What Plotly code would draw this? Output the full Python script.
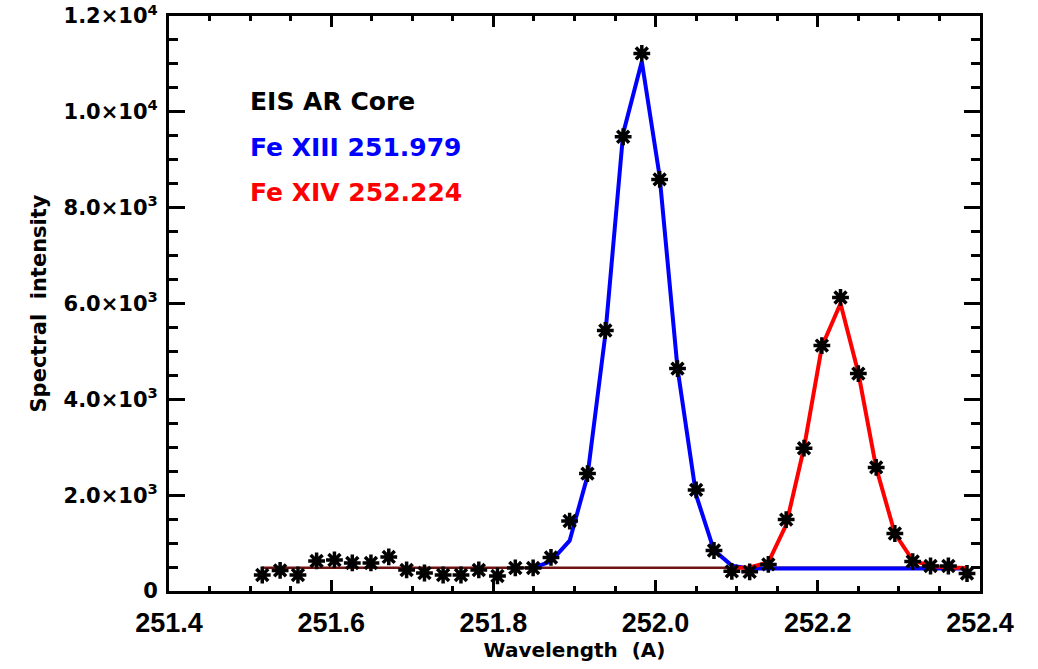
import plotly.graph_objects as go

# Observed EIS spectrum (wavelength in Angstrom, spectral intensity)
wavelength = [
    251.515, 251.537, 251.559, 251.582, 251.604, 251.626, 251.649, 251.671,
    251.693, 251.715, 251.738, 251.760, 251.782, 251.805, 251.827, 251.849,
    251.871, 251.894, 251.916, 251.938, 251.960, 251.983, 252.005, 252.027,
    252.050, 252.072, 252.094, 252.116, 252.139, 252.161, 252.183, 252.205,
    252.228, 252.250, 252.272, 252.295, 252.317, 252.339, 252.361, 252.384,
]
intensity = [
    334, 430, 334, 627, 648, 585, 585, 711,
    439, 376, 334, 334, 439, 314, 481, 481,
    700, 1460, 2450, 5436, 9480, 11220, 8590, 4641,
    2110, 845, 410, 400, 555, 1490, 2980, 5122,
    6125, 4537, 2580, 1200, 615, 522, 522, 365,
]

# Fe XIII 251.979 fit (evaluated on the spectrum wavelengths from index 15 on)
fe13_wavelength = wavelength[15:]
fe13_fit = [
    485, 620, 1050, 2400, 5350, 9550, 11050, 8650,
    4650, 2000, 850, 530, 470, 470, 470, 470,
    470, 470, 470, 470, 470, 470, 470, 470, 470,
]

# Fe XIV 252.224 fit (from index 26 on)
fe14_wavelength = wavelength[26:]
fe14_fit = [
    480, 490, 600, 1380, 2990, 5100, 6000, 4550,
    2570, 1200, 640, 520, 490, 480,
]

# Flat background level under both lines
background_wavelength = [wavelength[0], wavelength[-1]]
background_level = [485, 485]

x_ticks = [251.4, 251.6, 251.8, 252.0, 252.2, 252.4]
x_ticktext = ["251.4", "251.6", "251.8", "252.0", "252.2", "252.4"]
y_ticks = [0, 2000, 4000, 6000, 8000, 10000, 12000]
y_ticktext = [
    "0",
    "2.0×10<sup>3</sup>",
    "4.0×10<sup>3</sup>",
    "6.0×10<sup>3</sup>",
    "8.0×10<sup>3</sup>",
    "1.0×10<sup>4</sup>",
    "1.2×10<sup>4</sup>",
]

label_lines = ["EIS AR Core", "Fe XIII 251.979", "Fe XIV 252.224"]
label_colors = ["#000000", "#0000FF", "#FF0000"]
label_ypos = [0.852, 0.772, 0.693]

BOLD = dict(family="DejaVu Sans", weight="bold", color="black")

fig = go.Figure()

fig.add_trace(go.Scatter(
    x=background_wavelength, y=background_level, mode="lines",
    line=dict(color="#6e1212", width=2.5), showlegend=False, hoverinfo="skip",
))
fig.add_trace(go.Scatter(
    x=fe13_wavelength, y=fe13_fit, mode="lines",
    line=dict(color="#0000FF", width=4), showlegend=False,
))
fig.add_trace(go.Scatter(
    x=fe14_wavelength, y=fe14_fit, mode="lines",
    line=dict(color="#FF0000", width=4), showlegend=False,
))
fig.add_trace(go.Scatter(
    x=wavelength, y=intensity, mode="markers",
    marker=dict(symbol="asterisk-open", size=14, color="black",
                line=dict(color="black", width=3.5)),
    showlegend=False,
))

for text, color, ypos in zip(label_lines, label_colors, label_ypos):
    fig.add_annotation(
        x=0.097, y=ypos, xref="paper", yref="paper",
        xanchor="left", yanchor="middle", showarrow=False,
        text=text.replace(" ", "\u00a0"),
        font=dict(family="DejaVu Sans", weight="bold", size=25, color=color),
    )

fig.update_layout(
    template="none",
    width=1038, height=669,
    margin=dict(l=169, r=58, t=16, b=78),
    paper_bgcolor="white", plot_bgcolor="white",
    showlegend=False,
)

fig.update_xaxes(
    range=[251.4, 252.4], automargin=False,
    tickvals=x_ticks, ticktext=x_ticktext,
    tickfont=dict(family="Liberation Sans", weight="bold", size=27, color="black"),
    ticks="inside", ticklen=11, tickwidth=2.5, tickcolor="black",
    minor=dict(dtick=0.05, tick0=251.4, ticks="inside", ticklen=5,
               tickwidth=2.5, tickcolor="black", showgrid=False),
    showline=True, linecolor="black", linewidth=3, mirror="allticks",
    showgrid=False, zeroline=False, ticklabelstandoff=6,
    title=dict(text="Wavelength\u00a0\u00a0(A)", standoff=6,
               font=dict(size=20, **BOLD)),
)
fig.update_yaxes(
    range=[0, 12000], automargin=False,
    tickvals=y_ticks, ticktext=y_ticktext,
    tickfont=dict(family="DejaVu Sans", weight="bold", size=21, color="black"),
    ticks="inside", ticklen=16, tickwidth=2.5, tickcolor="black",
    minor=dict(dtick=500, tick0=0, ticks="inside", ticklen=9,
               tickwidth=2.5, tickcolor="black", showgrid=False),
    showline=True, linecolor="black", linewidth=3, mirror="allticks",
    showgrid=False, zeroline=False, ticklabelstandoff=4,
    title=dict(text="Spectral\u00a0\u00a0intensity", standoff=12,
               font=dict(size=21, **BOLD)),
)

fig.write_html("out.html")
